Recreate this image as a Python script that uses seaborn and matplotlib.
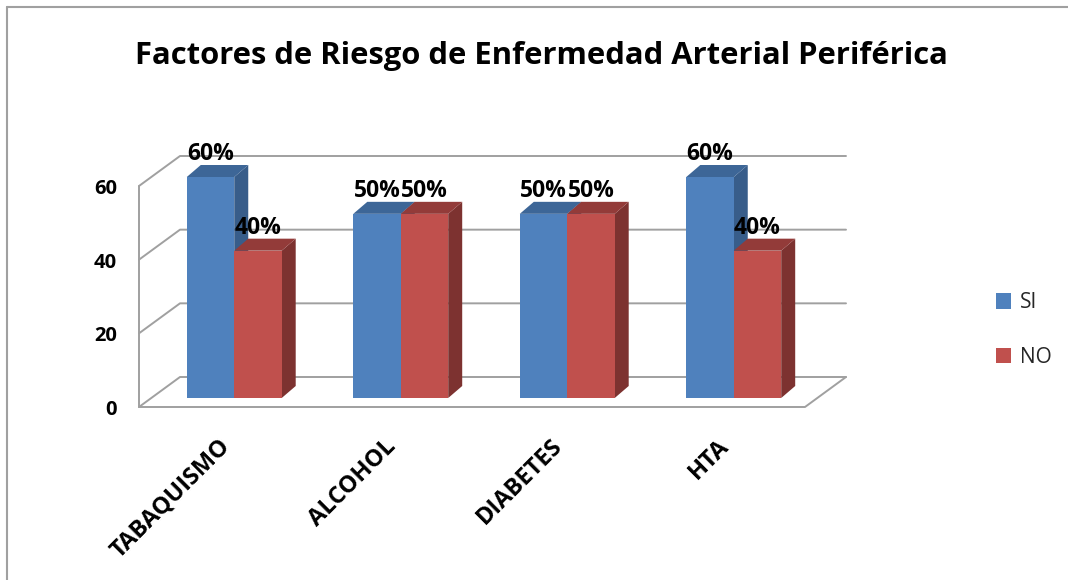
import pandas as pd
import matplotlib.pyplot as plt
import seaborn as sns
from matplotlib.patches import Polygon, Patch
from matplotlib.lines import Line2D
from matplotlib.transforms import offset_copy

# ================== datos ==================
categorias = ["TABAQUISMO", "ALCOHOL", "DIABETES", "HTA"]
valores_si = [60, 50, 50, 60]
valores_no = [40, 50, 50, 40]
series = ["SI", "NO"]
ticks_y = [0, 20, 40, 60]
titulo = "Factores de Riesgo de Enfermedad Arterial Periférica"
# ===========================================

W, H, DPI = 1068, 580, 100
colores = {"SI": "#4F81BD", "NO": "#C0504D"}
lados = {"SI": "#385D8A", "NO": "#7D3230"}
techos = {"SI": "#3D6697", "NO": "#933B39"}

df = pd.DataFrame({
    "Categoria": categorias * 2,
    "Serie": ["SI"] * len(categorias) + ["NO"] * len(categorias),
    "Valor": valores_si + valores_no,
})

sns.set_theme(style="white")
plt.rcParams['font.family'] = ['Open Sans', 'DejaVu Sans']

fig = plt.figure(figsize=(W / DPI, H / DPI), dpi=DPI)
# plano de las barras en pixeles: x 151..817, y 398 (0) .. 177 (60)
ax = fig.add_axes([151 / W, (H - 398) / H, 666 / W, 221 / H])

sns.barplot(data=df, x="Categoria", y="Valor", hue="Serie", hue_order=series,
            palette=colores, saturation=1, width=0.57, order=categorias,
            legend=False, ax=ax, zorder=3)
ax.set_xlim(-0.5, 3.5)
ax.set_ylim(0, 60)
ax.axis("off")

# conversion pixel -> datos
ux = 4 / 666
uy = 60 / 221
# profundidad de las barras (derecha y arriba)
bdx, bdy = 14 * ux, 12 * uy
# planos frontal y posterior de la cuadricula
fdx, fdy = -12 * ux, -9 * uy
kdx, kdy = 29 * ux, 21 * uy

for k, (serie, cont) in enumerate(zip(series, ax.containers)):
    for bar in cont:
        x0 = bar.get_x()
        x1 = x0 + bar.get_width()
        h = bar.get_height()
        bar.set_edgecolor("none")
        bar.set_zorder(3 + k)
        lado = Polygon([(x1, 0), (x1 + bdx, bdy), (x1 + bdx, h + bdy), (x1, h)],
                       closed=True, fc=lados[serie], ec="none", zorder=2.9 + k, clip_on=False)
        techo = Polygon([(x0, h), (x0 + bdx, h + bdy), (x1 + bdx, h + bdy), (x1, h)],
                        closed=True, fc=techos[serie], ec="none", zorder=2.9 + k, clip_on=False)
        ax.add_patch(lado)
        ax.add_patch(techo)
        # etiqueta de datos
        ax.text(x0 + (x1 - x0) / 2, h, f"{int(h)}%", ha="center", va="bottom",
                fontsize=16.5, fontweight="bold", color="black", zorder=10,
                transform=offset_copy(ax.transData, fig=fig, x=0, y=11, units="dots"))

# cuadricula en perspectiva
gris = "#A0A0A0"
xl, xr = -0.5, 3.5
for t in ticks_y:
    ax.plot([xl + fdx, xl + kdx, xr + kdx], [t + fdy, t + kdy, t + kdy],
            color=gris, lw=1.4, zorder=1, clip_on=False)
# suelo y pared izquierda
ax.plot([xr + kdx, xr + fdx, xl + fdx], [kdy, fdy, fdy], color=gris, lw=1.4, zorder=1, clip_on=False)
ax.plot([xl + fdx, xl + fdx], [fdy, 60 + fdy], color=gris, lw=1.4, zorder=1, clip_on=False)

# etiquetas eje y
for t in ticks_y:
    ax.text(xl + fdx, t + fdy, str(t), ha="right", va="center", fontsize=14.5,
            fontweight="bold", color="black",
            transform=offset_copy(ax.transData, fig=fig, x=-22, y=-3, units="dots"))

# etiquetas eje x (rotadas)
for i, cat in enumerate(categorias):
    ax.text(i + fdx, fdy, cat, ha="right", va="center", rotation=45,
            rotation_mode="anchor", fontsize=17, fontweight="bold", color="black",
            transform=offset_copy(ax.transData, fig=fig, x=4, y=-36, units="dots"))

# titulo
fig.text(541 / W, 1 - 56 / H, titulo, ha="center", va="center",
         fontsize=22.3, fontweight="bold", color="black")

# leyenda
handles = [Patch(facecolor=colores[s], edgecolor="none", label=s) for s in series]
fig.legend(handles=handles, loc="center left", bbox_to_anchor=(977 / W, 1 - 330 / H),
           frameon=False, fontsize=15, handlelength=0.75, handleheight=0.75,
           handletextpad=0.4, labelspacing=1.6)

# marco exterior
fig.add_artist(Line2D([7 / W, 7 / W], [0, 1 - 7 / H], color=gris, lw=1.5))
fig.add_artist(Line2D([7 / W, 1], [1 - 7 / H, 1 - 7 / H], color=gris, lw=1.5))

plt.savefig("out.png", dpi=DPI)
